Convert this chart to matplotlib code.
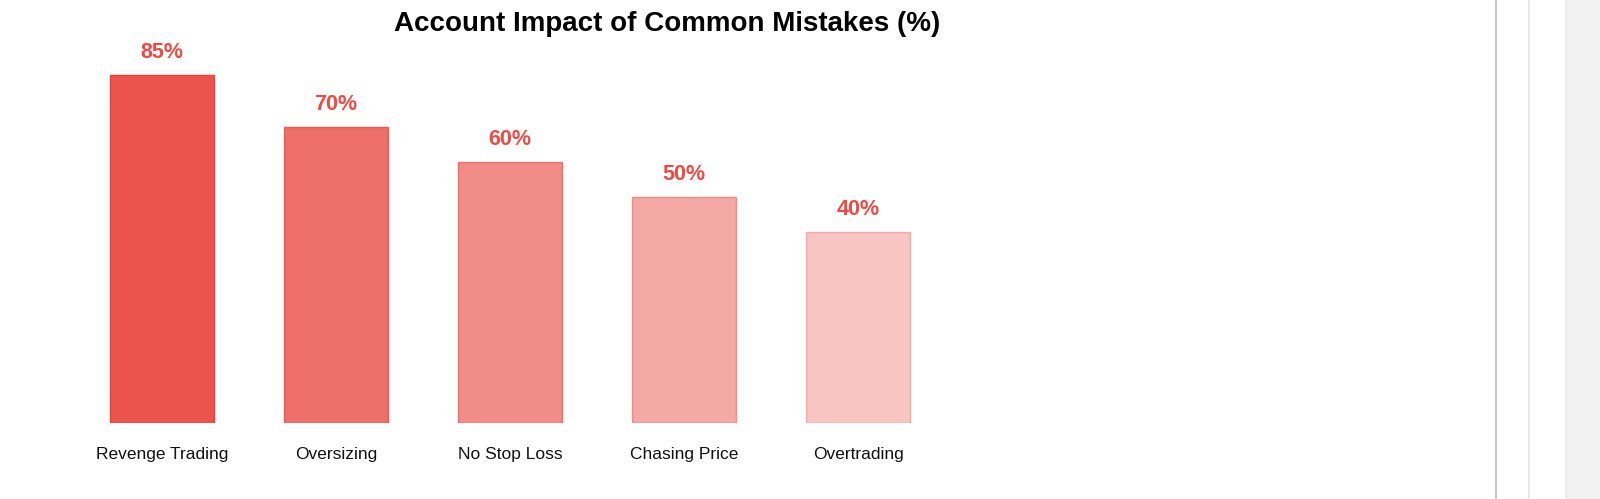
import matplotlib
matplotlib.use("Agg")
import matplotlib.pyplot as plt
from matplotlib.lines import Line2D
from matplotlib.patches import Rectangle
import numpy as np

categories = ["Revenge Trading", "Oversizing", "No Stop Loss", "Chasing Price", "Overtrading"]
values = [85, 70, 60, 50, 40]
value_labels = ["85%", "70%", "60%", "50%", "40%"]
alphas = [0.9, 0.75, 0.6, 0.45, 0.3]
title = "Account Impact of Common Mistakes (%)"

base_rgb = (234 / 255, 64 / 255, 58 / 255)
label_color = "#ee4a44"
y_min, y_max = -15, 100

plt.rcParams['font.family'] = ['Liberation Sans', 'DejaVu Sans']

fig = plt.figure(figsize=(16, 4.99), dpi=100)
fig.patch.set_facecolor("white")

W, H = 1600, 499
left_px, right_px, top_px, bottom_px = 75, 945, 22.8, 423
ax = fig.add_axes([left_px / W, (H - bottom_px) / H,
                   (right_px - left_px) / W, (bottom_px - top_px) / H])

x = np.arange(len(categories))
fills = [(*base_rgb, a) for a in alphas]
edges = [(*base_rgb, min(1.0, a + (0.1 if i == 0 else 0.04))) for i, a in enumerate(alphas)]
heights = [v - y_min for v in values]
bars = ax.bar(x, heights, bottom=y_min, width=0.6, color=fills,
              edgecolor=edges, linewidth=1)

for xi, v, lab in zip(x, values, value_labels):
    ax.annotate(lab, (xi, v), xytext=(0, 16), textcoords="offset points",
                ha="center", va="center", fontsize=15.5, fontweight="bold",
                color=label_color)

ax.set_xlim(-0.5, len(categories) - 0.5)
ax.set_ylim(y_min, y_max)
ax.set_xticks(x)
ax.set_xticklabels(categories, fontsize=12.5, color="#111111")
ax.tick_params(axis="x", length=0, pad=17)
ax.set_yticks([])
for s in ax.spines.values():
    s.set_visible(False)

fig.text(667 / W, 1 - 24 / H, title, ha="center", va="center",
         fontsize=20, fontweight="bold", color="#000000")

# page scrollbar decoration on the right edge
fig.add_artist(Line2D([1496 / W, 1496 / W], [0, 1], color="#c6c6c6", lw=1.5))
fig.add_artist(Line2D([1529 / W, 1529 / W], [0, 1], color="#e4e4e4", lw=1.2))
fig.add_artist(Rectangle((1565 / W, 0), 35 / W, 1, transform=fig.transFigure,
                         facecolor="#f2f2f2", edgecolor="none"))
fig.add_artist(Line2D([1565.5 / W, 1565.5 / W], [0, 1], color="#e8e8e8", lw=1))

fig.savefig("out.png", dpi=100, facecolor="white")
